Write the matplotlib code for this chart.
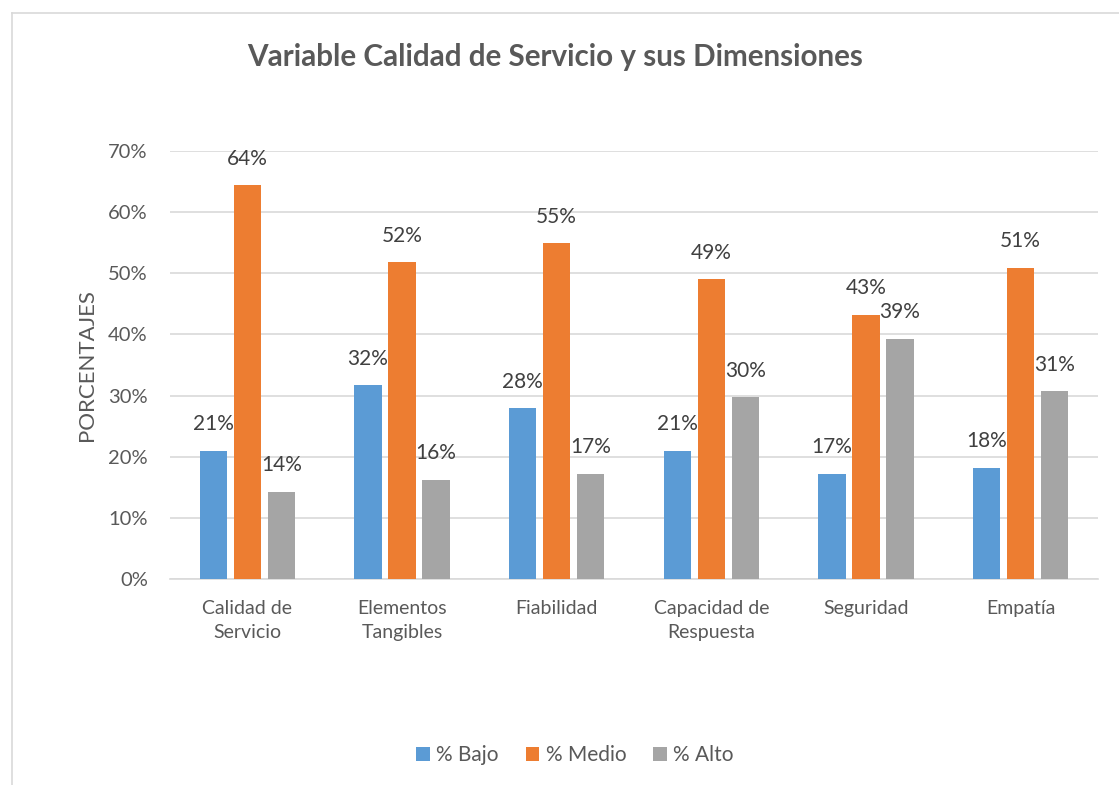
import matplotlib
matplotlib.use("Agg")
import matplotlib.pyplot as plt
from matplotlib.lines import Line2D
import numpy as np

categories = ["Calidad de\nServicio", "Elementos\nTangibles", "Fiabilidad",
              "Capacidad de\nRespuesta", "Seguridad", "Empatía"]
series_names = ["% Bajo", "% Medio", "% Alto"]
bajo = [0.21, 0.317, 0.279, 0.21, 0.172, 0.182]
medio = [0.644, 0.518, 0.549, 0.49, 0.432, 0.509]
alto = [0.143, 0.162, 0.172, 0.297, 0.393, 0.307]
labels_bajo = ["21%", "32%", "28%", "21%", "17%", "18%"]
labels_medio = ["64%", "52%", "55%", "49%", "43%", "51%"]
labels_alto = ["14%", "16%", "17%", "30%", "39%", "31%"]
yticks = [0, 0.1, 0.2, 0.3, 0.4, 0.5, 0.6, 0.7]
ytick_labels = ["0%", "10%", "20%", "30%", "40%", "50%", "60%", "70%"]

colors = ["#5B9BD5", "#ED7D31", "#A5A5A5"]
txt = "#595959"
plt.rcParams['font.family'] = ['Lato', 'DejaVu Sans']

W, H = 1119, 785
fig = plt.figure(figsize=(W / 100, H / 100), dpi=100)
fig.patch.set_facecolor("white")

left, right, bottom, top = 170, 1098, 579, 151
ax = fig.add_axes([left / W, 1 - bottom / H, (right - left) / W, (bottom - top) / H])

x = np.arange(len(categories))
bw = 0.175
step = 0.22
data = [bajo, medio, alto]
labs = [labels_bajo, labels_medio, labels_alto]
for i, (vals, lb, c, name) in enumerate(zip(data, labs, colors, series_names)):
    xs = x + (i - 1) * step
    ax.bar(xs, vals, width=bw, color=c, label=name, zorder=3)
    for xx, v, t in zip(xs, vals, lb):
        ax.annotate(t, (xx, v), xytext=(0, 12), textcoords="offset points",
                    ha="center", va="bottom", fontsize=15, color="#404040")

ax.set_xlim(-0.5, len(categories) - 0.5)
ax.set_ylim(0, 0.7)
ax.set_yticks(yticks)
ax.set_yticklabels(ytick_labels, fontsize=14.5, color=txt)
ax.set_xticks(x)
ax.set_xticklabels(categories, fontsize=14, color=txt, linespacing=1.5)
ax.tick_params(axis="x", length=0, pad=15)
ax.tick_params(axis="y", length=0, pad=16)
ax.grid(axis="y", color="#D9D9D9", linewidth=1.2, zorder=0)
for s in ["top", "right", "left"]:
    ax.spines[s].set_visible(False)
ax.spines["bottom"].set_color("#D9D9D9")
ax.spines["bottom"].set_linewidth(1.2)

ax.set_ylabel("PORCENTAJES", fontsize=16, color=txt, labelpad=8)

fig.text(555 / W, 1 - 57 / H, "Variable Calidad de Servicio y sus Dimensiones",
         ha="center", va="center", fontsize=21.3, fontweight="bold", color=txt)

leg = fig.legend(loc="center", bbox_to_anchor=(575 / W, 1 - 755 / H), ncol=3,
                 frameon=False, fontsize=15, handlelength=0.65, handleheight=0.65,
                 handletextpad=0.3, columnspacing=1.3)
for t in leg.get_texts():
    t.set_color(txt)

# outer chart border (light grey)
fig.add_artist(Line2D([12 / W, 1.0], [1 - 13 / H, 1 - 13 / H], transform=fig.transFigure,
                      color="#D9D9D9", linewidth=1.2))
fig.add_artist(Line2D([12 / W, 12 / W], [0, 1 - 13 / H], transform=fig.transFigure,
                      color="#D9D9D9", linewidth=1.2))

fig.savefig("out.png", dpi=100, facecolor="white")
